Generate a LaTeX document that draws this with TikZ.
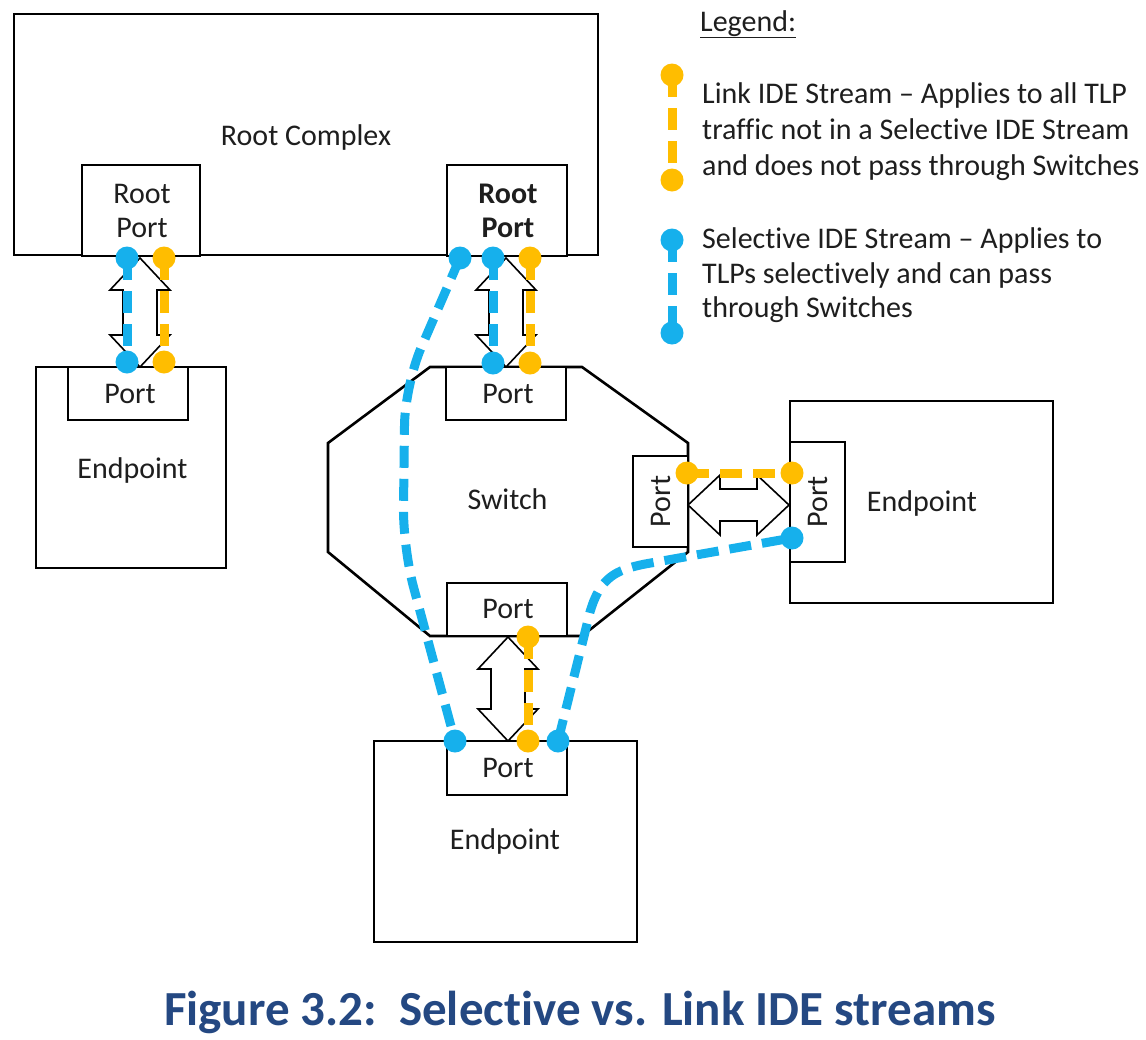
\documentclass[tikz,border=0pt]{standalone}
\usepackage{fontspec}
\setmainfont{Carlito}[Ligatures=NoCommon]
\usetikzlibrary{calc}
\definecolor{lkorange}{RGB}{255,189,0}
\definecolor{selblue}{RGB}{22,176,236}
\definecolor{capblue}{RGB}{36,72,130}
\definecolor{inkc}{RGB}{30,30,30}
\newcommand\hollowvarrow[3]{%
  \draw[harrow] (#1,#2) -- ({#1+30},{#2+32}) -- ({#1+17},{#2+32}) -- ({#1+17},{#3-32})
    -- ({#1+30},{#3-32}) -- (#1,#3) -- ({#1-30},{#3-32}) -- ({#1-17},{#3-32})
    -- ({#1-17},{#2+32}) -- ({#1-30},{#2+32}) -- cycle;}
\newcommand\hollowharrow[3]{%
  \draw[harrow] (#1,#3) -- ({#1+32},{#3-30}) -- ({#1+32},{#3-16}) -- ({#2-32},{#3-16})
    -- ({#2-32},{#3-30}) -- (#2,#3) -- ({#2-32},{#3+30}) -- ({#2-32},{#3+16})
    -- ({#1+32},{#3+16}) -- ({#1+32},{#3+30}) -- cycle;}
\begin{document}
\begin{tikzpicture}[x=1pt,y=-1pt,
  box/.style={draw=black, line width=2.6pt, fill=white, inner sep=0pt},
  lbl/.style={font=\fontsize{30}{34}\selectfont, align=center, text=inkc, inner sep=0pt},
  blbl/.style={lbl, anchor=base},
  legtxt/.style={font=\fontsize{30}{36}\selectfont, text=inkc, anchor=base west, inner sep=0pt},
  linkline/.style={draw=lkorange, line width=9pt, dash pattern=on 22pt off 11pt},
  selline/.style={draw=selblue, line width=9pt, dash pattern=on 22pt off 11pt},
  odot/.style={fill=lkorange},
  bdot/.style={fill=selblue},
  harrow/.style={draw=black, line width=1.6pt, fill=white, line join=miter},
]
\useasboundingbox (0,0) rectangle (1146,1039);
\fill[white] (0,0) rectangle (1146,1039);

% Root complex
\node[box, minimum width=584pt, minimum height=241pt] (rc) at (306,134.5) {};
\node[blbl] (rclbl) at (306,145) {Root Complex};
\node[box, minimum width=118pt, minimum height=91pt] (lrp) at (141,210.5) {};
\node[blbl] (lrplbl1) at (142,203) {Root};
\node[blbl] (lrplbl2) at (142,237) {Port};
\node[box, minimum width=120pt, minimum height=91pt] (rrp) at (507,210.5) {};
\node[blbl, font=\fontsize{30}{34}\selectfont\bfseries] (rrplbl1) at (508,203) {Root};
\node[blbl, font=\fontsize{30}{34}\selectfont\bfseries] (rrplbl2) at (508,237) {Port};

% Left endpoint
\node[box, minimum width=190pt, minimum height=201pt] (lep) at (131,467.5) {};
\node[blbl] (leplbl) at (132.5,478) {Endpoint};
\node[box, minimum width=120pt, minimum height=53pt] (lepp) at (128,393.5) {};
\node[blbl] (lepplbl) at (130,403) {Port};

% Switch
\coordinate (s1) at (430,367);
\coordinate (s2) at (582,367);
\coordinate (s3) at (688,443);
\coordinate (s4) at (688,552);
\coordinate (s5) at (582,636);
\coordinate (s6) at (430,636);
\coordinate (s7) at (328,552);
\coordinate (s8) at (328,443);
\draw[box] (s1) -- (s2) -- (s3) -- (s4) -- (s5) -- (s6) -- (s7) -- (s8) -- cycle;
\node[blbl] (swlbl) at (507.5,509) {Switch};
\node[box, minimum width=120pt, minimum height=53pt] (swtp) at (506,393.5) {};
\node[blbl] (swtplbl) at (508,403) {Port};
\node[box, minimum width=120pt, minimum height=53pt] (swbp) at (507,609.5) {};
\node[blbl] (swbplbl) at (508,618) {Port};
\node[box, minimum width=55pt, minimum height=91pt] (swrp) at (660.5,501.5) {};
\node[lbl, rotate=90] (swrplbl) at (660.5,501.5) {Port};

% Right endpoint
\node[box, minimum width=263pt, minimum height=202pt] (rep) at (921.5,502) {};
\node[blbl] (replbl) at (922,511) {Endpoint};
\node[box, minimum width=55pt, minimum height=120pt] (repp) at (817.5,502) {};
\node[lbl, rotate=90] (repplbl) at (817.5,502) {Port};

% Bottom endpoint
\node[box, minimum width=263pt, minimum height=201pt] (bep) at (505.5,841.5) {};
\node[blbl] (beplbl) at (505,849) {Endpoint};
\node[box, minimum width=120pt, minimum height=54pt] (bepp) at (507,768) {};
\node[blbl] (bepplbl) at (508,777) {Port};

% hollow arrows
\hollowvarrow{140}{258}{367}
\hollowvarrow{506}{258}{367}
\hollowvarrow{508}{637}{741}
\hollowharrow{688}{789}{505}

% stream end points
\coordinate (a1) at (127,258); \coordinate (a2) at (127,362);
\coordinate (b1) at (164,258); \coordinate (b2) at (164,362);
\coordinate (c1) at (493,258); \coordinate (c2) at (493,363);
\coordinate (d1) at (530,258); \coordinate (d2) at (530,363);
\coordinate (e1) at (528,637); \coordinate (e2) at (528,741);
\coordinate (f1) at (687,473); \coordinate (f2) at (792,473);
\coordinate (g1) at (460,258); \coordinate (g2) at (455,741);
\coordinate (h1) at (558,741); \coordinate (h2) at (792,538);
\coordinate (l1) at (672,75);  \coordinate (l2) at (672,180);
\coordinate (m1) at (672,240); \coordinate (m2) at (672,333);

% streams
\draw[selline] (a1) -- (a2);
\draw[linkline] (b1) -- (b2);
\draw[selline] (c1) -- (c2);
\draw[linkline] (d1) -- (d2);
\draw[linkline] (e1) -- (e2);
\draw[linkline] (f1) -- (f2);
\draw[selline, rounded corners=40pt] (g1) -- (405,385) -- (403,548) -- (g2);
\draw[selline] (h1) -- (590,612) .. controls (600,578) and (615,570) .. (645,564) -- (h2);
\draw[linkline] (l1) -- (l2);
\draw[selline] (m1) -- (m2);

\foreach \p in {a1,a2,c1,c2,g1,g2,h1,h2,m1,m2} \fill[bdot] (\p) circle (11.5pt);
\foreach \p in {b1,b2,d1,d2,e1,e2,f1,f2,l1,l2} \fill[odot] (\p) circle (11.5pt);

% legend
\node[legtxt] (leghead) at (700,31) {\underline{Legend:}};
\node[legtxt] (leg1a) at (702,103) {Link IDE Stream -- Applies to all TLP};
\node[legtxt] (leg1b) at (702,139) {traffic not in a Selective IDE Stream};
\node[legtxt] (leg1c) at (702,175) {and does not pass through Switches};
\node[legtxt] (leg2a) at (702,248) {Selective IDE Stream -- Applies to};
\node[legtxt] (leg2b) at (702,283) {TLPs selectively and can pass};
\node[legtxt] (leg2c) at (702,317) {through Switches};

% caption
\node[font=\fontsize{49}{56}\selectfont\bfseries, text=capblue, anchor=base, inner sep=0pt] (cap) at (580,1025) {Figure 3.2:\ \ Selective vs. Link IDE streams};
\end{tikzpicture}
\end{document}
